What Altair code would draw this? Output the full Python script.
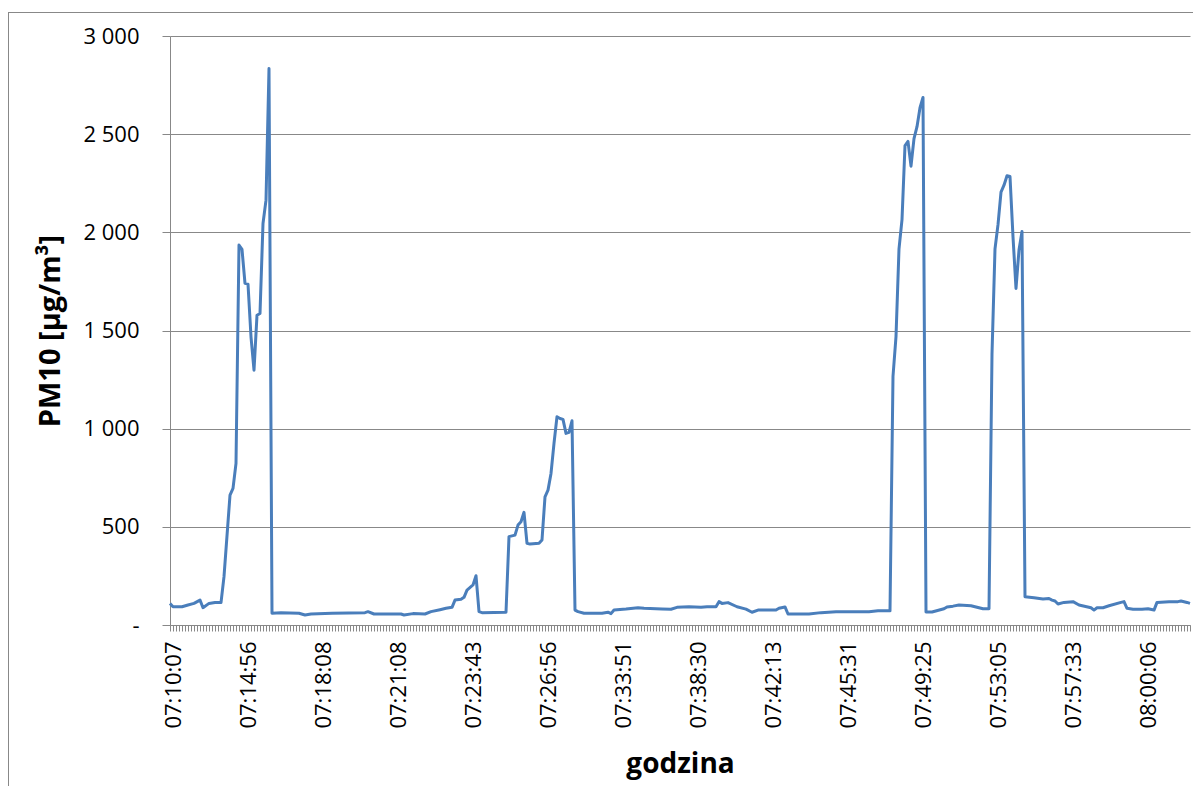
import altair as alt
import pandas as pd

# Category tick labels (one label every 25 categories)
time_labels = ["07:10:07", "07:14:56", "07:18:08", "07:21:08", "07:23:43", "07:26:56",
               "07:33:51", "07:38:30", "07:42:13", "07:45:31", "07:49:25", "07:53:05",
               "07:57:33", "08:00:06"]
label_step = 25
n_categories = 341

# Sample index (category position) and PM10 readings [µg/m³]
sample_idx = [
    0, 1, 4, 6, 8, 10, 11, 13, 15, 17, 18, 20, 21, 22, 23, 24, 25, 26, 27, 28, 29, 30, 31, 32, 33,
    34, 37, 43, 45, 47, 54, 65, 66, 68, 77, 78, 81, 85, 87, 90, 92, 94, 95, 97, 98, 99, 101, 102,
    103, 104, 112, 113, 115, 116, 117, 118, 119, 120, 123, 124, 125, 126, 127, 128, 129, 130, 131,
    132, 133, 134, 135, 136,
    138, 144, 146, 147, 148, 152, 156, 158, 164, 167, 169, 173, 177, 179, 182, 183, 184, 186, 189,
    192, 194, 196, 198, 202, 203, 205, 206, 213, 217, 222, 226, 233, 236,
    240, 241, 242, 243, 244, 245, 246, 247, 248, 249, 250, 251, 252,
    254, 258, 259, 261, 263, 267, 271, 273, 274, 275, 276, 277, 278, 279, 280, 281, 282, 283, 284,
    285, 288, 291, 293, 294, 295, 296, 298, 301, 303, 307, 308, 309, 311, 313, 317, 318, 319, 321,
    324, 326, 328, 329, 333, 336, 337, 339, 340,
]
pm10 = [
    110, 93, 93, 102, 110, 127, 88, 110, 115, 114, 246, 662, 696, 823, 1935, 1913, 1740, 1736, 1468,
    1298, 1578, 1587, 2045, 2164, 2834,
    60, 63, 60, 51, 56, 60, 63, 68, 56, 56, 51, 58, 56, 68, 78, 85, 90, 127, 131, 141, 178, 204, 251,
    68, 63, 65, 450, 458, 509, 526, 574, 416, 412, 416, 433, 653, 687, 772, 925, 1061, 1052, 1047,
    976, 981, 1040, 76, 68,
    60, 60, 65, 58, 76, 81, 88, 85, 81, 80, 90, 93, 90, 93, 93, 119, 110, 114, 93,
    81, 65, 76, 76, 76, 85, 92, 56, 56, 63, 68, 68, 68, 72,
    72, 1267, 1469, 1916, 2065, 2442, 2463, 2337, 2477, 2538, 2635, 2687, 66,
    66, 83, 92, 96, 102, 98, 83, 83, 1380, 1916, 2039, 2205, 2240, 2288, 2284, 1977, 1714, 1910, 2004,
    144, 139, 132, 135, 127, 122, 107, 115, 119, 102, 88, 76, 88, 88, 98, 115, 119, 85, 80,
    80, 83, 76, 115, 119, 119, 122, 115, 110,
]

y_ticks = [0, 500, 1000, 1500, 2000, 2500, 3000]

df = pd.DataFrame({"i": sample_idx, "pm10": pm10})
frame_df = pd.DataFrame({"a": [0]})

FONT = "Open Sans"
GRAY = "#888888"

label_array = "[" + ",".join(f"'{t}'" for t in time_labels) + "]"
x_label_expr = f"datum.value % {label_step} === 0 ? {label_array}[datum.value / {label_step}] : ''"
y_label_expr = "datum.value === 0 ? '-' : replace(format(datum.value, ','), ',', ' ')"

line = alt.Chart(df).mark_line(color="#4a7ebb", strokeWidth=3, strokeJoin="round").encode(
    x=alt.X(
        "i:Q",
        scale=alt.Scale(domain=[0, n_categories - 1], nice=False, zero=False),
        axis=alt.Axis(
            values=list(range(n_categories)),
            labelExpr=x_label_expr,
            labelAngle=270,
            labelOverlap=False,
            labelFlush=False,
            labelFont=FONT,
            labelFontSize=22,
            labelColor="black",
            labelPadding=10,
            labelOffset=3,
            tickSize=6,
            tickColor=GRAY,
            domainColor=GRAY,
            grid=False,
            title="godzina",
            titleFont=FONT,
            titleFontSize=28,
            titleFontWeight="bold",
            titleColor="black",
            titleY=139,
            titleBaseline="middle",
        ),
    ),
    y=alt.Y(
        "pm10:Q",
        scale=alt.Scale(domain=[0, 3000], nice=False),
        axis=alt.Axis(
            values=y_ticks,
            labelExpr=y_label_expr,
            labelFont=FONT,
            labelFontSize=22,
            labelColor="black",
            labelPadding=23,
            tickSize=8,
            tickColor=GRAY,
            domainColor=GRAY,
            gridColor=GRAY,
            gridWidth=1,
            title="PM10 [µg/m³]",
            titleFont=FONT,
            titleFontSize=29,
            titleFontWeight="bold",
            titleColor="black",
            titleAngle=270,
            titleX=-120,
            titleY=294.5,
            titleAlign="center",
            titleBaseline="middle",
        ),
    ),
)

frame_left = alt.Chart(frame_df).mark_rule(color=GRAY, strokeWidth=1).encode(
    x=alt.value(-161.5), y=alt.value(-24), y2=alt.value(750)
)
frame_top = alt.Chart(frame_df).mark_rule(color=GRAY, strokeWidth=1).encode(
    x=alt.value(-162), x2=alt.value(1023), y=alt.value(-23.5)
)

chart = alt.layer(line, frame_left, frame_top).properties(
    width=1020,
    height=589,
    autosize=alt.AutoSizeParams(type="none"),
    padding={"left": 162, "top": 28, "right": 3, "bottom": 161},
).configure_view(stroke="transparent")

chart.save("out.html", embed_options={"renderer": "svg", "actions": False})
